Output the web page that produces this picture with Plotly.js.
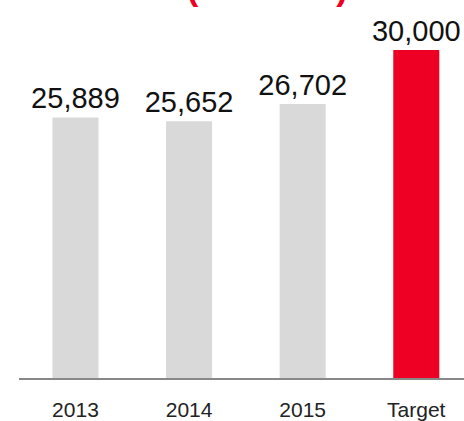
<!DOCTYPE html>
<html>
<head>
<meta charset="utf-8">
<script src="https://cdn.plot.ly/plotly-3.0.1.min.js"></script>
<style>html,body{margin:0;padding:0;background:#fff;}#chart{width:464px;height:421px;}</style>
</head>
<body>
<div id="chart"></div>
<script>
const categories = ["2013", "2014", "2015", "Target"];
const values = [25889, 25652, 26702, 30000];
const labels = ["25,889", "25,652", "26,702", "30,000"];
const barColors = ["#d9d9d9", "#d9d9d9", "#d9d9d9", "#ee0024"];
const titleText = "Revenues (€ million)";

const trace = {
  type: "bar",
  x: categories,
  y: values,
  text: labels,
  textposition: "outside",
  constraintext: "none",
  cliponaxis: false,
  textfont: {family: "Liberation Sans, Arial, sans-serif", size: 29, color: "#111"},
  marker: {color: barColors},
  hoverinfo: "none"
};

const layout = {
  width: 464,
  height: 421,
  margin: {l: 19, r: 0, t: 0, b: 43},
  paper_bgcolor: "#fff",
  plot_bgcolor: "#fff",
  showlegend: false,
  bargap: 0.595,
  annotations: [{
    text: "<b>" + titleText + "</b>",
    font: {family: "Liberation Sans, Arial, sans-serif", size: 34, color: "#ee0024"},
    xref: "paper", yref: "paper",
    x: 0.744, xanchor: "right",
    y: 0.976, yanchor: "bottom",
    showarrow: false
  }],
  xaxis: {
    type: "category",
    range: [-0.497, 3.42],
    showline: true,
    linecolor: "#888",
    linewidth: 2,
    ticks: "",
    showgrid: false,
    zeroline: false,
    tickfont: {family: "Liberation Sans, Arial, sans-serif", size: 21, color: "#222"},
    ticklabelstandoff: 12
  },
  yaxis: {
    range: [10000, 33049],
    visible: false,
    showgrid: false,
    zeroline: false
  }
};

Plotly.newPlot("chart", [trace], layout, {displayModeBar: false, staticPlot: true});
</script>
</body>
</html>
